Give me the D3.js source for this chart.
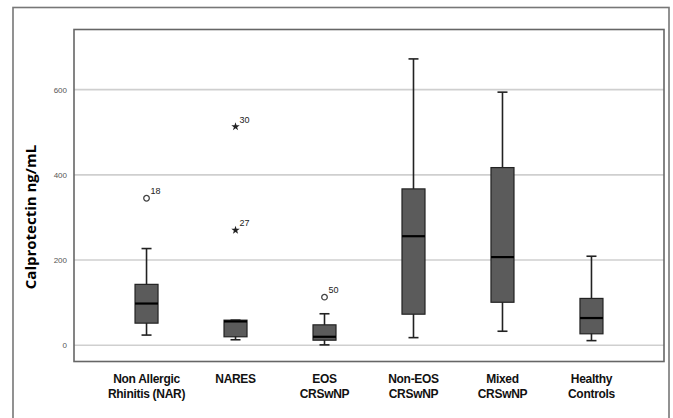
<!DOCTYPE html>
<html>
<head>
<meta charset="utf-8">
<script src="https://cdn.jsdelivr.net/npm/d3@7"></script>
<style>
  body { margin: 0; background: #fff; }
  .catLabel { font-family: "Liberation Sans Narrow", "Arial Narrow", "Liberation Sans", sans-serif; font-weight: bold; font-size: 12px; letter-spacing: -0.3px; fill: #111; }
  .tickLab { font-family: "Liberation Sans", Arial, sans-serif; font-size: 8px; fill: #555; }
  .outLab { font-family: "Liberation Sans", sans-serif; font-size: 9px; fill: #222; }
</style>
</head>
<body>
<svg id="chart" width="673" height="418"></svg>
<script>
// groups and their box stats
var categories = [["Non Allergic", "Rhinitis (NAR)"], ["NARES"], ["EOS", "CRSwNP"], ["Non-EOS", "CRSwNP"], ["Mixed", "CRSwNP"], ["Healthy", "Controls"]];
var whiskerLow  = [24, 13, 1, 18, 33, 11];
var q1          = [52, 20, 12, 73, 101, 27];
var median      = [98, 56, 20, 256, 207, 64];
var q3          = [143, 59, 48, 367, 417, 110];
var whiskerHigh = [227, 59, 74, 672, 594, 209];

// outliers: group index, value, case label, marker
var outGroup = [0, 1, 1, 2];
var outValue = [345, 513, 270, 113];
var outId    = ["18", "30", "27", "50"];
var outType  = ["circle", "star", "star", "circle"];

var yTicks = [0, 200, 400, 600];

var svg = d3.select("#chart"),
    margin = {top: 29.5, right: 9, bottom: 56.5, left: 74},
    width = +svg.attr("width") - margin.left - margin.right,
    height = +svg.attr("height") - margin.top - margin.bottom;

// outer frame
svg.append("rect")
    .attr("x", 13).attr("y", 7.5)
    .attr("width", 656).attr("height", 420)
    .attr("fill", "none").attr("stroke", "#777").attr("stroke-width", 1.6);

var g = svg.append("g").attr("transform", "translate(" + margin.left + "," + margin.top + ")");

var idx = d3.range(categories.length);

var x = d3.scalePoint()
    .domain(idx)
    .range([0, width])
    .padding(0.815);

var y = d3.scaleLinear()
    .domain([-38, 741])
    .range([height, 0]);

// gridlines
g.selectAll(".grid")
    .data(yTicks)
    .enter().append("line")
    .attr("x1", 0).attr("x2", width)
    .attr("y1", function(d) { return y(d); })
    .attr("y2", function(d) { return y(d); })
    .attr("stroke", "#cfcfcf").attr("stroke-width", 1.6);

// y axis labels
var yAxis = g.append("g")
    .call(d3.axisLeft(y).tickValues(yTicks).tickSize(0).tickPadding(7));
yAxis.select(".domain").remove();
yAxis.selectAll("text").attr("class", "tickLab").attr("font-family", null).attr("font-size", null).attr("fill", null);

// y title
svg.append("text")
    .attr("transform", "translate(35.5,217) rotate(-90)")
    .attr("text-anchor", "middle")
    .attr("font-family", "'Open Sans', 'Liberation Sans', sans-serif")
    .attr("font-weight", "bold")
    .attr("font-size", 15)
    .attr("fill", "#000")
    .text("Calprotectin ng/mL");

var boxW = 23, capW = 10;

var box = g.selectAll(".box")
    .data(idx)
    .enter().append("g")
    .attr("transform", function(i) { return "translate(" + x(i) + ",0)"; });

// whiskers
box.append("line")
    .attr("y1", function(i) { return y(whiskerLow[i]); })
    .attr("y2", function(i) { return y(whiskerHigh[i]); })
    .attr("stroke", "#222").attr("stroke-width", 1.6);
box.selectAll(".cap")
    .data(function(i) { return [whiskerLow[i], whiskerHigh[i]]; })
    .enter().append("line")
    .attr("x1", -capW / 2).attr("x2", capW / 2)
    .attr("y1", function(v) { return y(v); })
    .attr("y2", function(v) { return y(v); })
    .attr("stroke", "#222").attr("stroke-width", 1.6);

// boxes
box.append("rect")
    .attr("x", -boxW / 2)
    .attr("width", boxW)
    .attr("y", function(i) { return y(q3[i]); })
    .attr("height", function(i) { return y(q1[i]) - y(q3[i]); })
    .attr("fill", "#5b5b5b")
    .attr("stroke", "#222").attr("stroke-width", 1.2);

// medians
box.append("line")
    .attr("x1", -boxW / 2).attr("x2", boxW / 2)
    .attr("y1", function(i) { return y(median[i]); })
    .attr("y2", function(i) { return y(median[i]); })
    .attr("stroke", "#000").attr("stroke-width", 2.2);

// outliers
var star = d3.symbol().type(d3.symbolStar).size(22);
var outs = g.selectAll(".outlier")
    .data(d3.range(outValue.length))
    .enter().append("g")
    .attr("transform", function(k) { return "translate(" + x(outGroup[k]) + "," + y(outValue[k]) + ")"; });

outs.filter(function(k) { return outType[k] === "circle"; })
    .append("circle")
    .attr("r", 2.8)
    .attr("fill", "none").attr("stroke", "#444").attr("stroke-width", 1.3);

outs.filter(function(k) { return outType[k] === "star"; })
    .append("path")
    .attr("d", star)
    .attr("fill", "#222");

outs.append("text")
    .attr("class", "outLab")
    .attr("x", 4).attr("y", -4)
    .text(function(k) { return outId[k]; });

// plot frame
g.append("rect")
    .attr("width", width).attr("height", height)
    .attr("fill", "none").attr("stroke", "#666").attr("stroke-width", 1.6);

// category labels
var labs = g.selectAll(".catLabel")
    .data(idx)
    .enter().append("text")
    .attr("class", "catLabel")
    .attr("text-anchor", "middle")
    .attr("transform", function(i) { return "translate(" + x(i) + "," + (height + 21.5) + ")"; });

labs.selectAll("tspan")
    .data(function(i) { return categories[i]; })
    .enter().append("tspan")
    .attr("x", 0)
    .attr("dy", function(t, j) { return j === 0 ? 0 : 15; })
    .text(function(t) { return t; });
</script>
</body>
</html>
